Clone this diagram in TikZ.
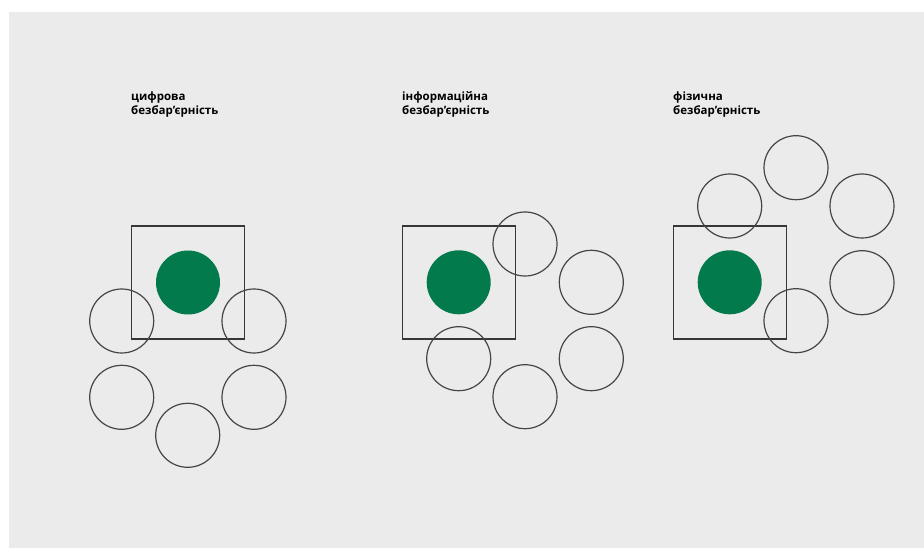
\documentclass[tikz,border=0pt]{standalone}
\usepackage{fontspec}
\setsansfont{Open Sans}
\usepackage{xcolor}
\usetikzlibrary{positioning}

\definecolor{panelgray}{HTML}{EBEBEB}
\definecolor{accessgreen}{HTML}{037A4B}
\definecolor{ringgray}{HTML}{454545}

\begin{document}
\begin{tikzpicture}[x=1pt, y=-1pt,
  frame/.style={draw=ringgray!80!black, line width=1.3pt, minimum size=113pt, inner sep=0pt},
  core/.style={circle, fill=accessgreen, minimum size=64pt, inner sep=0pt},
  ring/.style={circle, draw=ringgray, line width=1.2pt, minimum size=64pt, inner sep=0pt},
  caption/.style={anchor=base west, align=left, inner sep=0pt,
                  font=\sffamily\bfseries\fontsize{11.5}{14.3}\selectfont}
]
\useasboundingbox (0,0) rectangle (924,548);
\fill[white] (0,0) rectangle (924,548);
\fill[panelgray] (9,12) rectangle (924,548);

% цифрова
\node[caption] (t1) at (131,115) {цифрова\\безбар’єрність};
\node[frame] (b1) at (188,282.5) {};
\node[core] (g1) at (188,282.5) {};
\node[ring] (d1) at (121.7,321) {};
\node[ring] (d2) at (254,321) {};
\node[ring] (d3) at (121.7,397.3) {};
\node[ring] (d4) at (254,397.3) {};
\node[ring] (d5) at (187.7,435.3) {};

% інформаційна
\node[caption] (t2) at (402,115) {інформаційна\\безбар’єрність};
\node[frame] (b2) at (459,282.5) {};
\node[core] (g2) at (458.7,282.3) {};
\node[ring] (i1) at (525,244) {};
\node[ring] (i2) at (591.3,282.3) {};
\node[ring] (i3) at (458.7,358.7) {};
\node[ring] (i4) at (591.3,358.7) {};
\node[ring] (i5) at (525,396.7) {};

% фізична
\node[caption] (t3) at (673,115) {фізична\\безбар’єрність};
\node[frame] (b3) at (729.7,282.5) {};
\node[core] (g3) at (729.7,282.3) {};
\node[ring] (f1) at (796,167.7) {};
\node[ring] (f2) at (729.7,206) {};
\node[ring] (f3) at (862,206) {};
\node[ring] (f4) at (862,282.7) {};
\node[ring] (f5) at (796,320.7) {};
\end{tikzpicture}
\end{document}
